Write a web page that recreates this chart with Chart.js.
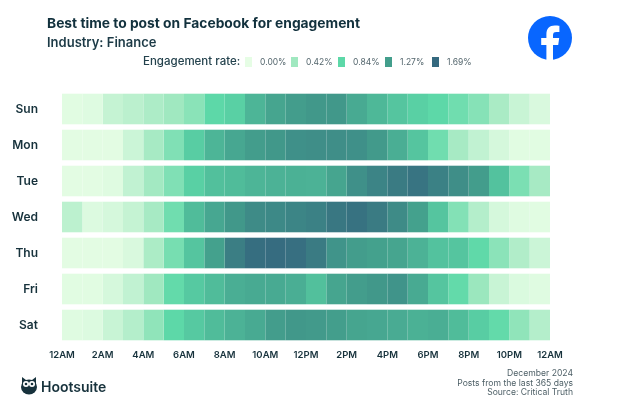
<!DOCTYPE html>
<html lang="en">
<head>
<meta charset="UTF-8">
<title>Best time to post on Facebook for engagement</title>
<style>
    body { margin: 0; background: #fff; font-family: Inter, 'Open Sans', Arial, sans-serif; color: #12313d; }
    #wrap { position: relative; width: 620px; height: 413px; overflow: hidden; }
    #wrap canvas { position: absolute; left: 0; top: 0; }
    .txt { position: absolute; white-space: nowrap; line-height: 1; }
    .title { left: 47px; top: 17px; font-size: 13.8px; font-weight: 700; }
    .sub { left: 47px; top: 36px; font-size: 13px; font-weight: 600; color: #1c3a46; }
    .legend-name { left: 143px; top: 56px; font-size: 11.5px; font-weight: 500; color: #24424d; }
    .swatch { position: absolute; top: 57px; width: 7px; height: 10px; }
    .legend-val { top: 58px; font-size: 8.5px; color: #54666d; }
    .foot { right: 47px; font-size: 8.6px; color: #4d5f66; }
    .brand { left: 41px; top: 380px; font-size: 14px; font-weight: 600; color: #17323c; }
    svg { position: absolute; }
</style>
</head>
<body>
<div id="wrap">
    <canvas id="heat" width="620" height="413"></canvas>
    <div class="txt title">Best time to post on Facebook for engagement</div>
    <div class="txt sub">Industry: Finance</div>
    <div class="txt legend-name">Engagement rate:</div>
    <div id="legend"></div>
    <svg style="left:528px;top:16px" width="44" height="44" viewBox="0 0 44 44">
        <circle cx="22" cy="22" r="22" fill="#0866ff"/>
        <path d="M18.4 44V29h-5.2v-7h5.2v-3.6c0-6 3-9 8.4-9 1.8 0 3.4.2 4.6.4v6.2h-3c-2.6 0-3.4 1.2-3.4 3.4V22h6.2l-1 7h-5.2v15z" fill="#fff"/>
    </svg>
    <svg style="left:20px;top:376px" width="18" height="19" viewBox="0 0 18 19">
        <path d="M2 1l4 3h6l4-3v8a7.500 8.500 0 0 1-14 0z" fill="#17323c"/>
        <ellipse cx="9" cy="11" rx="8" ry="7.500" fill="#17323c"/>
        <circle cx="6" cy="8" r="3" fill="#fff"/><circle cx="12" cy="8" r="3" fill="#fff"/>
        <circle cx="6" cy="8" r="1.300" fill="#17323c"/><circle cx="12" cy="8" r="1.300" fill="#17323c"/>
    </svg>
    <div class="txt brand">Hootsuite</div>
    <div class="txt foot" style="top:369px">December 2024</div>
    <div class="txt foot" style="top:379px">Posts from the last 365 days</div>
    <div class="txt foot" style="top:388px">Source: Critical Truth</div>
</div>
<script src="https://cdn.jsdelivr.net/npm/chart.js"></script>
<script>
const days = ['Sun', 'Mon', 'Tue', 'Wed', 'Thu', 'Fri', 'Sat'];
const hourLabels = ['12AM', '2AM', '4AM', '6AM', '8AM', '10AM', '12PM', '2PM', '4PM', '6PM', '8PM', '10PM', '12AM'];

// engagement rate per hour
const sun = [0.03, 0.05, 0.20, 0.26, 0.34, 0.42, 0.56, 0.84, 0.90, 1.10, 1.22, 1.28, 1.32, 1.32, 1.18, 1.08, 0.98, 0.90, 0.84, 0.72, 0.58, 0.36, 0.18, 0.08];
const mon = [0.02, 0.02, 0.02, 0.16, 0.38, 0.62, 0.92, 1.10, 1.20, 1.28, 1.32, 1.38, 1.40, 1.40, 1.38, 1.30, 1.15, 0.98, 0.72, 0.38, 0.22, 0.10, 0.03, 0.03];
const tue = [0.02, 0.02, 0.04, 0.22, 0.40, 0.62, 0.90, 1.02, 1.05, 1.10, 1.12, 1.13, 1.12, 1.22, 1.38, 1.48, 1.55, 1.60, 1.50, 1.40, 1.28, 1.00, 0.65, 0.38];
const wed = [0.25, 0.06, 0.10, 0.20, 0.38, 0.72, 1.05, 1.20, 1.32, 1.42, 1.44, 1.47, 1.50, 1.58, 1.62, 1.55, 1.42, 1.25, 0.98, 0.60, 0.30, 0.10, 0.04, 0.03];
const thu = [0.02, 0.02, 0.02, 0.08, 0.35, 0.68, 0.98, 1.25, 1.52, 1.65, 1.67, 1.64, 1.55, 1.35, 1.28, 1.25, 1.22, 1.12, 1.00, 0.98, 0.82, 0.55, 0.32, 0.16];
const fri = [0.03, 0.03, 0.10, 0.22, 0.42, 0.80, 0.95, 1.05, 1.15, 1.18, 1.18, 1.15, 1.02, 1.22, 1.28, 1.32, 1.35, 1.18, 0.98, 0.80, 0.45, 0.18, 0.07, 0.04];
const sat = [0.04, 0.06, 0.18, 0.30, 0.52, 0.84, 0.95, 1.05, 1.12, 1.18, 1.28, 1.32, 1.30, 1.27, 1.22, 1.20, 1.17, 1.13, 1.15, 1.05, 0.92, 0.80, 0.52, 0.30];

const legendStops = [0, 0.42, 0.84, 1.27, 1.69];
const legendText = ['0.00%', '0.42%', '0.84%', '1.27%', '1.69%'];
const stopColors = [[230, 253, 229], [160, 232, 192], [93, 216, 168], [67, 158, 140], [53, 105, 127]];
const swatchLeft = [245, 291, 338, 385, 432];

const rows = [sun, mon, tue, wed, thu, fri, sat];

function rateColor(v) {
    let i = 0;
    while (i < legendStops.length - 2 && v > legendStops[i + 1]) i++;
    const t = (v - legendStops[i]) / (legendStops[i + 1] - legendStops[i]);
    const c = stopColors[i].map((a, k) => Math.round(a + (stopColors[i + 1][k] - a) * t));
    return `rgb(${c[0]},${c[1]},${c[2]})`;
}

// legend swatches
const legendBox = document.getElementById('legend');
legendText.forEach((t, i) => {
    const sw = document.createElement('div');
    sw.className = 'swatch';
    sw.style.left = swatchLeft[i] + 'px';
    sw.style.background = rateColor(legendStops[i]);
    legendBox.appendChild(sw);
    const lab = document.createElement('div');
    lab.className = 'txt legend-val';
    lab.style.left = (swatchLeft[i] + 15) + 'px';
    lab.textContent = t;
    legendBox.appendChild(lab);
});

// one floating bar per hour, on top of each other per day
const datasets = sun.map((_, h) => ({
    data: rows.map(r => [h, h + 1]),
    backgroundColor: rows.map(r => rateColor(r[h])),
    borderWidth: 0,
    categoryPercentage: 0.85,
    barPercentage: 1
}));

new Chart(document.getElementById('heat'), {
    type: 'bar',
    data: { labels: days, datasets: datasets },
    options: {
        indexAxis: 'y',
        responsive: false,
        animation: false,
        layout: { padding: { left: 0, top: 91, right: 70, bottom: 0 } },
        plugins: { legend: { display: false }, title: { display: false }, tooltip: { enabled: false } },
        scales: {
            x: {
                type: 'linear',
                min: 0,
                max: 24,
                afterFit: (scale) => { scale.height = 70; },
                grid: { display: false, drawTicks: false },
                border: { display: false },
                ticks: {
                    stepSize: 2,
                    maxRotation: 0,
                    autoSkip: false,
                    padding: 6,
                    color: '#17323c',
                    font: { family: 'Inter', size: 9.5, weight: '600' },
                    callback: (v) => hourLabels[v / 2]
                }
            },
            y: {
                stacked: true,
                afterFit: (scale) => { scale.width = 62; },
                grid: { display: false, drawTicks: false },
                border: { display: false },
                ticks: {
                    padding: 24,
                    color: '#17323c',
                    font: { family: 'Inter', size: 12, weight: '600' }
                }
            }
        }
    }
});
</script>
</body>
</html>
